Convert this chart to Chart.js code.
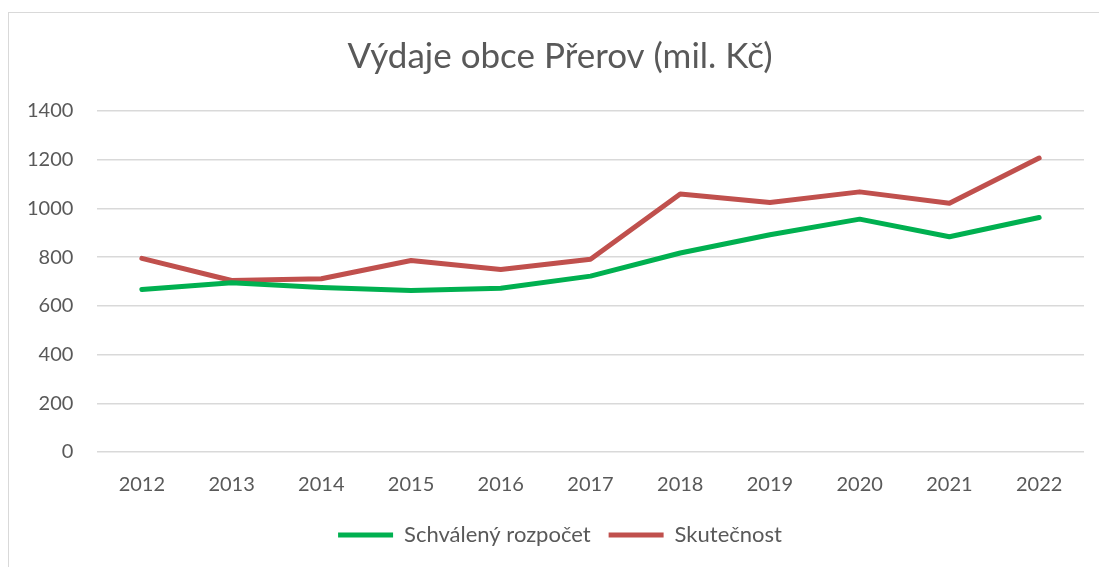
<!DOCTYPE html>
<html>
<head>
<meta charset="utf-8">
<script src="https://cdn.jsdelivr.net/npm/chart.js@4"></script>
<style>
  html, body { margin: 0; padding: 0; background: #fff; }
  #wrap { position: relative; width: 1099px; height: 567px; overflow: hidden; }
  #frame { position: absolute; left: 8px; top: 12px; width: 1200px; height: 600px; border: 1px solid #d9d9d9; }
  #chart { position: absolute; left: 0; top: 0; }
</style>
</head>
<body>
<div id="wrap">
  <div id="frame"></div>
  <canvas id="chart" width="1099" height="567"></canvas>
</div>
<script>
// years on the x axis
const years = ['2012', '2013', '2014', '2015', '2016', '2017', '2018', '2019', '2020', '2021', '2022'];
// approved budget (mil. Kč)
const budget = [667, 695, 675, 663, 672, 722, 817, 892, 956, 884, 963];
// actual spending (mil. Kč)
const actual = [795, 704, 711, 786, 749, 791, 1059, 1024, 1068, 1021, 1207];

const textColor = '#595959';
const font = 'Lato, "Open Sans", sans-serif';

new Chart(document.getElementById('chart'), {
    type: 'line',
    data: {
        labels: years,
        datasets: [
            {
                label: 'Schválený rozpočet',
                data: budget,
                borderColor: '#00b050',
                backgroundColor: '#00b050',
                borderWidth: 5,
                borderCapStyle: 'round',
                borderJoinStyle: 'round',
                pointRadius: 0,
                pointStyle: 'line',
                tension: 0
            },
            {
                label: 'Skutečnost',
                data: actual,
                borderColor: '#c0504d',
                backgroundColor: '#c0504d',
                borderWidth: 5,
                borderCapStyle: 'round',
                borderJoinStyle: 'round',
                pointRadius: 0,
                pointStyle: 'line',
                tension: 0
            }
        ]
    },
    options: {
        responsive: false,
        animation: false,
        // wider left padding keeps title/legend centred like the original
        layout: { padding: { left: 36, right: 15, top: 20, bottom: 11 } },
        scales: {
            x: {
                offset: true,
                grid: { display: false, drawTicks: false },
                border: { display: false },
                ticks: { color: textColor, font: { family: font, size: 20 }, padding: 21 },
                afterFit: s => { s.height -= 12; }
            },
            y: {
                min: 0,
                max: 1400,
                grid: { color: '#d9d9d9', lineWidth: 1.5, drawTicks: false },
                border: { display: false },
                ticks: {
                    stepSize: 200,
                    color: textColor,
                    font: { family: font, size: 20 },
                    // mirrored labels are not clipped, pushed back left of the plot
                    mirror: true,
                    crossAlign: 'far',
                    padding: -70,
                    callback: v => String(v)
                },
                afterFit: s => { s.width = 61; }
            }
        },
        plugins: {
            title: {
                display: true,
                text: 'Výdaje obce Přerov (mil. Kč)',
                color: textColor,
                font: { family: font, size: 35, weight: 'normal' },
                padding: { top: 16, bottom: 33 }
            },
            legend: {
                position: 'bottom',
                labels: {
                    usePointStyle: true,
                    pointStyleWidth: 55,
                    color: textColor,
                    font: { family: font, size: 22 },
                    padding: 18
                }
            },
            tooltip: { enabled: false }
        }
    }
});
</script>
</body>
</html>
